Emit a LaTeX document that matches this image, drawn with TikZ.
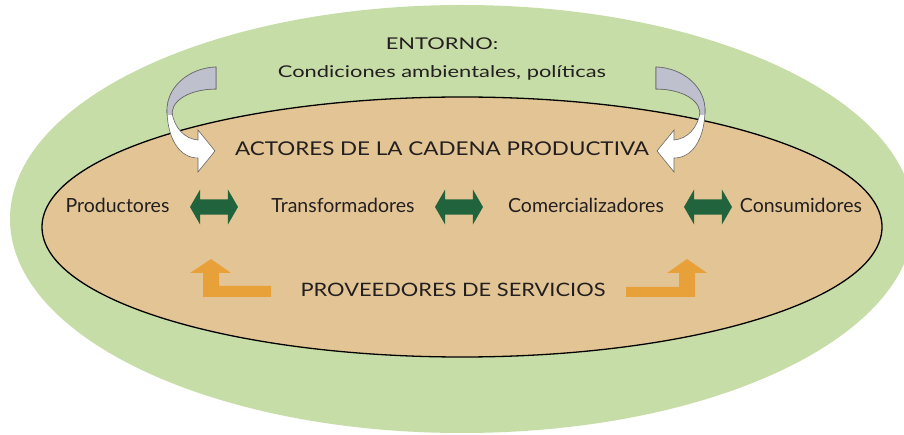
\documentclass[tikz,border=0pt]{standalone}
\usepackage{fontspec}
\setmainfont{Lato}
\newfontfamily\fuenteancha[FakeStretch=1.35]{Lato}
\newfontfamily\fuentemedia[FakeStretch=1.18]{Lato}
\usetikzlibrary{shapes,arrows,positioning,calc}

\definecolor{entorno}{RGB}{199,221,167}
\definecolor{cadena}{RGB}{227,197,149}
\definecolor{flecha}{RGB}{32,99,60}
\definecolor{servicio}{RGB}{232,161,57}
\definecolor{grisflecha}{RGB}{190,193,205}
\definecolor{texto}{RGB}{35,31,32}

\begin{document}
\begin{tikzpicture}[x=1pt,y=-1pt]
    \tikzstyle{titulo} = [text=texto, anchor=base, font=\fuenteancha\fontsize{16.2}{19}\selectfont]
    \tikzstyle{bloque} = [text=texto, anchor=base, font=\fuentemedia\fontsize{19}{22}\selectfont]
    \tikzstyle{actor} = [text=texto, anchor=base, font=\fontsize{19.5}{22}\selectfont]
    \tikzstyle{enlace} = [double arrow, fill=flecha, draw=none, minimum height=48pt, inner xsep=0pt, inner ysep=7.5pt, double arrow head extend=10pt, double arrow tip angle=120]
    \tikzstyle{giro} = [draw=black!60, line width=0.6pt]

    \useasboundingbox (0,0) rectangle (904,435);
    \clip (0,0) rectangle (904,435);
    \fill[white] (0,0) rectangle (904,435);

    % Entorno y cadena
    \fill[entorno] (462,219) ellipse [x radius=452, y radius=214];
    \draw[fill=cadena, line width=1.3pt] (462,227) ellipse [x radius=420, y radius=130];

    % Curved arrows (left one, then its mirror)
    \foreach \s in {1,-1} {
        \begin{scope}[xshift=436, xscale=\s, xshift=-436]
            \path[giro, fill=white] (216,67) .. controls (188,68) and (166,88) .. (167,112)
                .. controls (168,140) and (180,158) .. (198,158) -- (198,172) -- (215,151) -- (198,130) -- (198,140)
                .. controls (185,139) and (174,128) .. (172,112)
                .. controls (174,97) and (195,89) .. (216,89) -- cycle;
            \begin{scope}
                \clip (150,60) rectangle (230,115);
                \path[giro, fill=grisflecha] (216,67) .. controls (188,68) and (166,88) .. (167,112)
                    .. controls (168,140) and (180,158) .. (198,158) -- (198,172) -- (215,151) -- (198,130) -- (198,140)
                    .. controls (185,139) and (174,128) .. (172,112)
                    .. controls (174,97) and (195,89) .. (216,89) -- cycle;
            \end{scope}
        \end{scope}
    }

    % Labels
    \node[titulo] (entornotxt) at (442,49.3) {ENTORNO:};
    \node[titulo] (condiciones) at (442,77.5) {Condiciones ambientales, políticas};
    \node[bloque] (actores) at (442,156) {ACTORES DE LA CADENA PRODUCTIVA};

    \node[actor] (prod) at (117.5,213) {Productores};
    \node[actor] (transf) at (343,213) {Transformadores};
    \node[actor] (comer) at (586,213) {Comercializadores};
    \node[actor] (consum) at (801,213) {Consumidores};

    \node[enlace] (e1) at (214,207) {};
    \node[enlace] (e2) at (459,207) {};
    \node[enlace] (e3) at (708,207) {};

    \node[bloque, font=\fuentemedia\fontsize{18.5}{22}\selectfont] (serv) at (453,296.7) {PROVEEDORES DE SERVICIOS};

    % Service arrows
    \fill[servicio] (203,297) -- (271,297) -- (271,286) -- (219,286) -- (219,273) -- (231,273)
        -- (211,259) -- (190,273) -- (203,273) -- cycle;
    \fill[servicio] (626,297) -- (695,297) -- (695,273) -- (707,273) -- (687,259) -- (667,273)
        -- (679,273) -- (679,287) -- (626,287) -- cycle;
\end{tikzpicture}
\end{document}
